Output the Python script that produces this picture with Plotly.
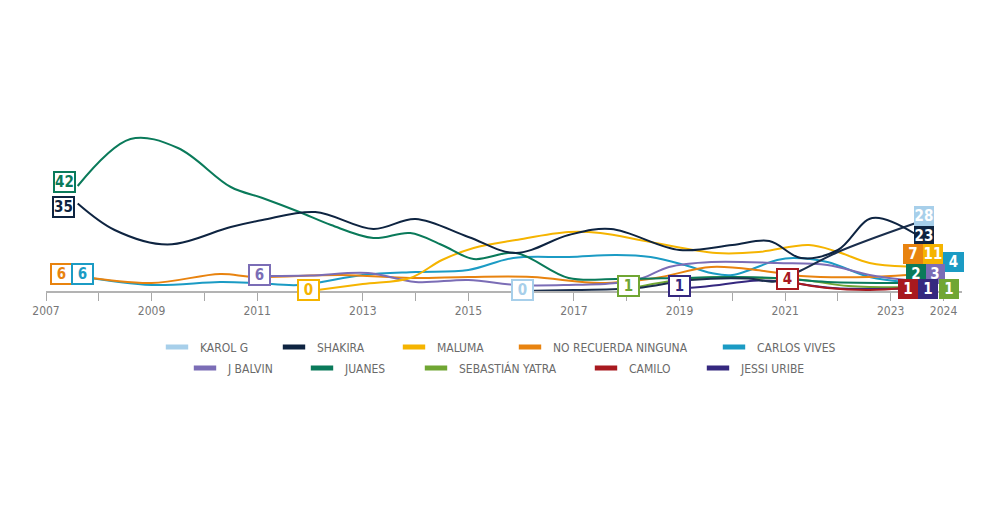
import plotly.graph_objects as go

# ---------------- data ----------------
series = ["KAROL G", "SHAKIRA", "MALUMA", "NO RECUERDA NINGUNA", "CARLOS VIVES",
          "J BALVIN", "JUANES", "SEBASTIÁN YATRA", "CAMILO", "JESSI URIBE"]

colors = ["#a7cfea", "#0e2441", "#f5b400", "#e8830f", "#1b9bc4",
          "#7b6db6", "#0a7a5a", "#70a633", "#a8191f", "#35287f"]

karolg_x = [2016.0, 2017.0, 2018.2, 2019.2, 2020.3, 2020.8, 2021.3, 2022.0, 2023.45]
karolg_y = [0, 0.4, 1.2, 4.4, 5.0, 3.8, 8.2, 15.6, 27]

shakira_x = [2007.6, 2008.3, 2009.3, 2010.5, 2011.1, 2012.1, 2013.2, 2014.0, 2015.0, 2015.9,
             2016.9, 2017.7, 2019.0, 2020.0, 2020.7, 2021.3, 2022.0, 2022.65, 2023.45]
shakira_y = [35, 24.4, 18.6, 25.6, 28.4, 31.6, 24.8, 28.8, 21.6, 15.2,
             22.4, 24.8, 16.4, 18.4, 20.0, 13.2, 16.4, 29.2, 23]

maluma_x = [2012.0, 2013.0, 2013.9, 2014.5, 2015.1, 2015.9, 2016.9, 2017.5, 2018.45,
            2019.7, 2020.5, 2021.45, 2022.0, 2022.6, 2023.3]
maluma_y = [0, 2.8, 5.2, 12.4, 17.2, 20.4, 23.6, 23.2, 19.6,
            15.2, 15.6, 18.4, 15.6, 11.2, 9.8]

norecuerda_x = [2007.6, 2009.0, 2010.3, 2010.95, 2012.6, 2013.9, 2015.0, 2016.2, 2017.5,
                2018.55, 2019.6, 2020.6, 2021.3, 2022.6, 2023.3]
norecuerda_y = [6, 3.2, 6.8, 5.6, 6.4, 5.2, 5.6, 5.6, 3.2,
                5.2, 9.6, 8.0, 6.0, 5.6, 6.4]

vives_x = [2007.6, 2009.0, 2010.3, 2011.0, 2011.8, 2013.0, 2014.0, 2015.0, 2015.85, 2016.9,
           2017.8, 2018.45, 2019.1, 2019.6, 2020.0, 2020.85, 2021.15, 2021.8, 2022.6, 2023.3]
vives_y = [6, 2.4, 3.6, 3.2, 2.4, 6.4, 7.6, 8.4, 13.2, 13.6,
           14.4, 13.6, 10.4, 7.2, 6.4, 12.4, 13.2, 11.6, 5.6, 3.6]

balvin_x = [2011.0, 2012.0, 2013.1, 2014.0, 2015.0, 2015.9, 2016.9, 2017.8, 2018.3, 2018.8,
            2019.6, 2020.85, 2021.8, 2022.6, 2023.3]
balvin_y = [6, 6.2, 7.2, 3.6, 4.4, 2.4, 2.4, 3.2, 5.2, 9.6,
            11.6, 11.2, 10.4, 6.4, 4.4]

juanes_x = [2007.6, 2008.6, 2009.5, 2010.5, 2011.1, 2011.8, 2012.4, 2013.2, 2013.9, 2014.5,
            2015.1, 2015.9, 2016.9, 2017.8, 2019.0, 2020.0, 2020.8, 2021.8, 2023.3]
juanes_y = [42, 60.8, 57.2, 41.6, 37.2, 31.6, 26.4, 21.2, 23.2, 18.4,
            12.8, 15.2, 5.2, 4.8, 5.2, 5.6, 5.2, 3.6, 3.2]

yatra_x = [2018.05, 2019.0, 2019.8, 2020.6, 2021.3, 2022.2, 2023.3]
yatra_y = [1, 4.5, 5.6, 5.2, 4.5, 2.0, 1.5]

camilo_x = [2021.0, 2021.3, 2021.8, 2022.6, 2023.3]
camilo_y = [4, 2.8, 1.2, 0.4, 1.2]

jessi_x = [2019.0, 2019.5, 2020.5, 2021.0, 2021.9, 2023.3]
jessi_y = [1, 1.8, 4.2, 3.6, 1.2, 1.0]

values_2024 = [28, 23, 11, 7, 4, 3, 2, 1, 1, 1]

xs = [karolg_x, shakira_x, maluma_x, norecuerda_x, vives_x,
      balvin_x, juanes_x, yatra_x, camilo_x, jessi_x]
ys = [karolg_y, shakira_y, maluma_y, norecuerda_y, vives_y,
      balvin_y, juanes_y, yatra_y, camilo_y, jessi_y]

year_ticks = list(range(2007, 2025))
year_labels = [str(y) if (y % 2 == 1 or y == 2024) else "" for y in year_ticks]

# ---------------- styling / layout ----------------
FONT = "Liberation Sans Narrow, DejaVu Sans Condensed, Arial Narrow, sans-serif"
line_colors = list(colors)
line_colors[0] = "#1a2e4c"   # Karol G line is drawn dark in the reference

draw_order = [4, 3, 5, 2, 7, 9, 8, 6, 0, 1]

# pixel offsets of the start-value boxes relative to each series' first point
start_shift = {0: (1, 1), 1: (-14, -3.5), 2: (-1.5, 1.5), 3: (-16.5, 2.5), 4: (4.5, 2.5),
               5: (2, 1.5), 6: (-13.5, 4), 7: (-1, 2.5), 8: (2.5, 2.5), 9: (-0.5, 2.5)}

# centre of each 2024 box (year, value units) - hand-stacked pile
end_pos = {0: (2023.63, 30.2), 1: (2023.63, 22.2), 2: (2023.80, 15.0), 3: (2023.42, 15.0),
           4: (2024.18, 11.6), 5: (2023.84, 7.0), 6: (2023.48, 7.0), 7: (2024.10, 1.0),
           8: (2023.33, 1.0), 9: (2023.71, 1.0)}

# page offset (browser body margin)
OFF = 8
# legend text start (screen px) and row centre (screen px)
legend_text_px = {0: 200, 1: 317, 2: 437, 3: 553, 4: 757,
                  5: 228, 6: 345, 7: 459, 8: 629, 9: 741}
legend_row_py = {0: 347, 1: 347, 2: 347, 3: 347, 4: 347,
                 5: 368, 6: 368, 7: 368, 8: 368, 9: 368}

L, T = 46 - OFF, 111 - OFF
PW, PH = 916, 180
R = 1000 - L - PW
B = 530 - T - PH

fig = go.Figure()

for i in draw_order:
    fig.add_trace(go.Scatter(
        x=xs[i], y=ys[i], mode="lines", name=series[i],
        line=dict(color=line_colors[i], width=2, shape="spline", smoothing=1.0),
        showlegend=False, hoverinfo="skip"))

legend_layouts = {}
for i in range(len(series)):
    lid = "legend" if i == 0 else f"legend{i + 1}"
    fig.add_trace(go.Scatter(
        x=[None], y=[None], mode="markers", name=series[i], legend=lid,
        marker=dict(symbol="line-ew", size=16, color=colors[i],
                    line=dict(color=colors[i], width=5)),
        showlegend=True, hoverinfo="skip"))
    legend_layouts[lid] = dict(
        x=(legend_text_px[i] - OFF - 46 - L) / PW, xanchor="left",
        y=(T + PH - (legend_row_py[i] - OFF)) / PH, yanchor="middle",
        orientation="h", itemwidth=36, bgcolor="rgba(0,0,0,0)",
        font=dict(family=FONT, size=12, color="#6a6a6a"),
        itemclick=False, itemdoubleclick=False)

annotations = []
for i in range(len(series)):
    dx, dy = start_shift[i]
    annotations.append(dict(
        x=xs[i][0], y=ys[i][0], xref="x", yref="y", showarrow=False,
        text=f"<b>{ys[i][0]:g}</b>", xshift=dx, yshift=dy,
        font=dict(family=FONT, size=15, color=colors[i]),
        bgcolor="white", bordercolor=colors[i], borderwidth=2, borderpad=0,
        width=19, height=18))
    ex, ey = end_pos[i]
    annotations.append(dict(
        x=ex, y=ey, xref="x", yref="y", showarrow=False,
        text=f"<b>{values_2024[i]}</b>",
        font=dict(family=FONT, size=15, color="white"),
        bgcolor=colors[i], borderwidth=0, borderpad=0,
        width=21 if i == 4 else 20, height=20 if i == 4 else 19.5))

fig.update_layout(
    width=1000, height=530,
    margin=dict(l=L, r=R, t=T, b=B),
    paper_bgcolor="white", plot_bgcolor="white",
    showlegend=True,
    annotations=annotations,
    xaxis=dict(range=[2007, 2024.35], tickmode="array", tickvals=year_ticks,
               ticktext=year_labels, ticks="outside", ticklen=8, tickwidth=1,
               tickcolor="#a8a8a8", showline=True, linecolor="#b3b3b3", linewidth=1.5,
               showgrid=False, zeroline=False, fixedrange=True,
               tickfont=dict(family=FONT, size=12, color="#777777")),
    yaxis=dict(range=[0, PH / 2.5], visible=False, fixedrange=True),
    **legend_layouts,
)

fig.write_html("out.html")
